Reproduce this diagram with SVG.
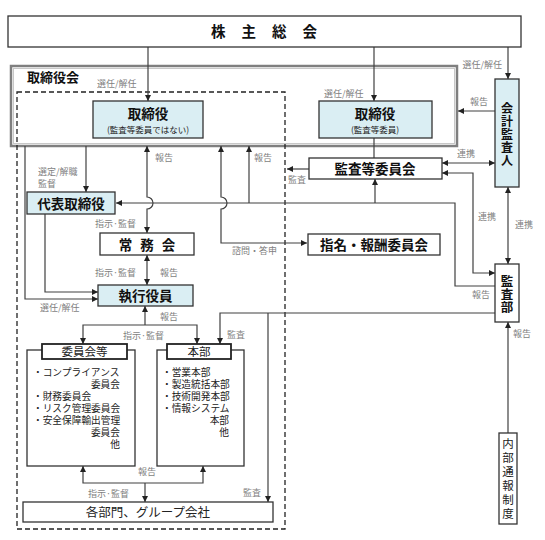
<svg xmlns="http://www.w3.org/2000/svg" width="545" height="540" viewBox="0 0 545 540">
<style>
.box{fill:#fff;stroke:#333;stroke-width:1.3}
.blue{fill:#daeef3;stroke:#333;stroke-width:1.3}
.t{font-family:"Noto Sans CJK JP",sans-serif;fill:#111;font-weight:bold}
.s{font-family:"Noto Sans CJK JP",sans-serif;fill:#222}
.li{font-family:"Liberation Serif","Noto Sans CJK JP",sans-serif;fill:#222;font-size:9.7px}
.v{writing-mode:vertical-rl;text-anchor:middle}
.lbl{font-family:"Noto Sans CJK JP",sans-serif;fill:#7f7f7f;font-size:9px}
.ln{fill:none;stroke:#404040;stroke-width:1.2}
</style>
<defs>
<marker id="a" markerUnits="userSpaceOnUse" markerWidth="6" markerHeight="6" refX="6" refY="3" orient="auto-start-reverse">
<path d="M0,0 L6,3 L0,6 z" fill="#222"/>
</marker>
</defs>
<rect width="545" height="540" fill="#fff"/>

<!-- frames -->
<g id="board-frame">
<rect x="11" y="66" width="446" height="80" fill="none" stroke="#7f7f7f" stroke-width="2.5"/>
<rect x="13.5" y="68.5" width="441" height="75" fill="none" stroke="#c8c8c8" stroke-width="1"/>
<text class="t" x="27" y="82" font-size="13" font-weight="normal">取締役会</text>
</g>
<g id="exec-frame">
<rect x="17" y="92" width="268" height="437" fill="none" stroke="#222" stroke-width="1.3" stroke-dasharray="5,3"/>
</g>

<!-- connectors -->
<g id="connectors">
<path class="ln" d="M148,47 V101" marker-end="url(#a)"/>
<path class="ln" d="M374,47 V101" marker-end="url(#a)"/>
<path class="ln" d="M508,47 V79" marker-end="url(#a)"/>
<path class="ln" d="M495,111 H458" marker-end="url(#a)"/>
<path class="ln" d="M442,163 H495" marker-start="url(#a)" marker-end="url(#a)"/>
<path class="ln" d="M374,138 V158"/>
<path class="ln" d="M309,169 H287" marker-end="url(#a)"/>
<path class="ln" d="M442,173 H473 V273 H495" marker-start="url(#a)" marker-end="url(#a)"/>
<path class="ln" d="M508,187 V264" marker-start="url(#a)" marker-end="url(#a)"/>
<path class="ln" d="M495,286 H455 V203 H116" marker-end="url(#a)"/>
<path class="ln" d="M375,203 V179" marker-end="url(#a)"/>
<path class="ln" d="M249,203 V146" marker-end="url(#a)"/>
<path class="ln" d="M147,146 V197 A6,6 0 0 1 147,209 V233" marker-start="url(#a)" marker-end="url(#a)"/>
<path class="ln" d="M221,146 V197 A6,6 0 0 1 221,209 V243 H307" marker-start="url(#a)" marker-end="url(#a)"/>
<path class="ln" d="M86,146 V192" marker-end="url(#a)"/>
<path class="ln" d="M25,146 V299 H98" marker-end="url(#a)"/>
<path class="ln" d="M45,214 V292 H98" marker-end="url(#a)"/>
<path class="ln" d="M147,255 V285" marker-start="url(#a)" marker-end="url(#a)"/>
<path class="ln" d="M145,325 V306" marker-end="url(#a)"/>
<path class="ln" d="M83,344 V325 H197 V344" marker-start="url(#a)" marker-end="url(#a)"/>
<path class="ln" d="M495,313 H220 V344" marker-end="url(#a)"/>
<path class="ln" d="M268,313 V502" marker-end="url(#a)"/>
<path class="ln" d="M83,466 V483 H203 V466" marker-start="url(#a)" marker-end="url(#a)"/>
<path class="ln" d="M145,483 V502" marker-end="url(#a)"/>
<path class="ln" d="M508,433 V322" marker-end="url(#a)"/>
</g>

<!-- labels -->
<g id="labels">
<text class="lbl" x="97" y="87">選任/解任</text>
<text class="lbl" x="324" y="97">選任/解任</text>
<text class="lbl" x="502" y="68" text-anchor="end">選任/解任</text>
<text class="lbl" x="470" y="105">報告</text>
<text class="lbl" x="457" y="157">連携</text>
<text class="lbl" x="155" y="161">報告</text>
<text class="lbl" x="254" y="161">報告</text>
<text class="lbl" x="38" y="175">選定/解職</text>
<text class="lbl" x="38" y="187">監督</text>
<text class="lbl" x="288" y="183">監査</text>
<text class="lbl" x="95" y="227">指示·監督</text>
<text class="lbl" x="232" y="254">諮問・答申</text>
<text class="lbl" x="478" y="220">連携</text>
<text class="lbl" x="515" y="228">連携</text>
<text class="lbl" x="95" y="276">指示·監督</text>
<text class="lbl" x="160" y="276">報告</text>
<text class="lbl" x="472" y="298">報告</text>
<text class="lbl" x="40" y="311">選任/解任</text>
<text class="lbl" x="160" y="320">報告</text>
<text class="lbl" x="123" y="339">指示·監督</text>
<text class="lbl" x="227" y="338">監査</text>
<text class="lbl" x="513" y="337">報告</text>
<text class="lbl" x="138" y="475">報告</text>
<text class="lbl" x="88" y="497">指示·監督</text>
<text class="lbl" x="243" y="496">監査</text>
</g>

<!-- nodes -->
<g id="shareholders">
<rect class="box" x="8" y="16" width="513" height="31"/>
<text class="t" x="272" y="37" font-size="14.5" text-anchor="middle" letter-spacing="16">株主総会</text>
</g>
<g id="director-nonaudit">
<rect class="blue" x="93" y="101" width="110" height="37"/>
<text class="t" x="148" y="119" font-size="13.5" text-anchor="middle">取締役</text>
<text class="s" x="148" y="133" font-size="8.5" text-anchor="middle" fill="#555">(監査等委員ではない)</text>
</g>
<g id="director-audit">
<rect class="blue" x="319" y="101" width="113" height="37"/>
<text class="t" x="375" y="119" font-size="13.5" text-anchor="middle">取締役</text>
<text class="s" x="375" y="133" font-size="8.5" text-anchor="middle" fill="#555">(監査等委員)</text>
</g>
<g id="accounting-auditor">
<rect class="blue" x="495" y="79" width="24" height="108"/>
<text class="t v" x="507" y="135" font-size="12" letter-spacing="1">会計監査人</text>
</g>
<g id="audit-committee">
<rect class="box" x="309" y="158" width="133" height="21"/>
<text class="t" x="375" y="174" font-size="13.5" text-anchor="middle">監査等委員会</text>
</g>
<g id="representative">
<rect class="blue" x="27" y="192" width="88" height="22"/>
<text class="t" x="71" y="208.5" font-size="13.5" text-anchor="middle">代表取締役</text>
</g>
<g id="executive-committee">
<rect class="box" x="100" y="233" width="94" height="22"/>
<text class="t" x="151" y="249.5" font-size="13.5" text-anchor="middle" letter-spacing="8">常務会</text>
</g>
<g id="nomination-committee">
<rect class="box" x="308" y="234" width="132" height="21"/>
<text class="t" x="374" y="250" font-size="13.5" text-anchor="middle">指名・報酬委員会</text>
</g>
<g id="audit-dept">
<rect class="box" x="495" y="264" width="24" height="58"/>
<text class="t v" x="507" y="294" font-size="12.5" letter-spacing="0.5">監査部</text>
</g>
<g id="executive-officers">
<rect class="blue" x="98" y="285" width="95" height="21"/>
<text class="t" x="145.5" y="300.5" font-size="13.5" text-anchor="middle">執行役員</text>
</g>
<g id="committees">
<rect class="box" x="27" y="350" width="108" height="116"/>
<rect x="42" y="344" width="85" height="15" fill="#fff" stroke="#222" stroke-width="1.8"/>
<text class="s" x="84.5" y="356" font-size="11.5" text-anchor="middle">委員会等</text>
<text class="li" x="33" y="376">・コンプライアンス</text>
<text class="li" x="120" y="388" text-anchor="end">委員会</text>
<text class="li" x="33" y="400">・財務委員会</text>
<text class="li" x="33" y="412">・リスク管理委員会</text>
<text class="li" x="33" y="424">・安全保障輸出管理</text>
<text class="li" x="120" y="436" text-anchor="end">委員会</text>
<text class="li" x="120" y="448" text-anchor="end">他</text>
</g>
<g id="headquarters">
<rect class="box" x="157" y="350" width="87" height="116"/>
<rect x="167" y="344" width="64" height="15" fill="#fff" stroke="#222" stroke-width="1.8"/>
<text class="s" x="199" y="356" font-size="11.5" text-anchor="middle">本部</text>
<text class="li" x="162" y="376">・営業本部</text>
<text class="li" x="162" y="388">・製造統括本部</text>
<text class="li" x="162" y="400">・技術開発本部</text>
<text class="li" x="162" y="412">・情報システム</text>
<text class="li" x="229" y="424" text-anchor="end">本部</text>
<text class="li" x="229" y="436" text-anchor="end">他</text>
</g>
<g id="departments">
<rect class="box" x="23" y="502" width="250" height="20"/>
<text class="s" x="148" y="517" font-size="12.5" text-anchor="middle">各部門、グループ会社</text>
</g>
<g id="whistleblowing">
<rect class="box" x="499" y="433" width="18" height="91"/>
<text class="s v" x="508" y="480" font-size="11.5" letter-spacing="2.5">内部通報制度</text>
</g>
</svg>
